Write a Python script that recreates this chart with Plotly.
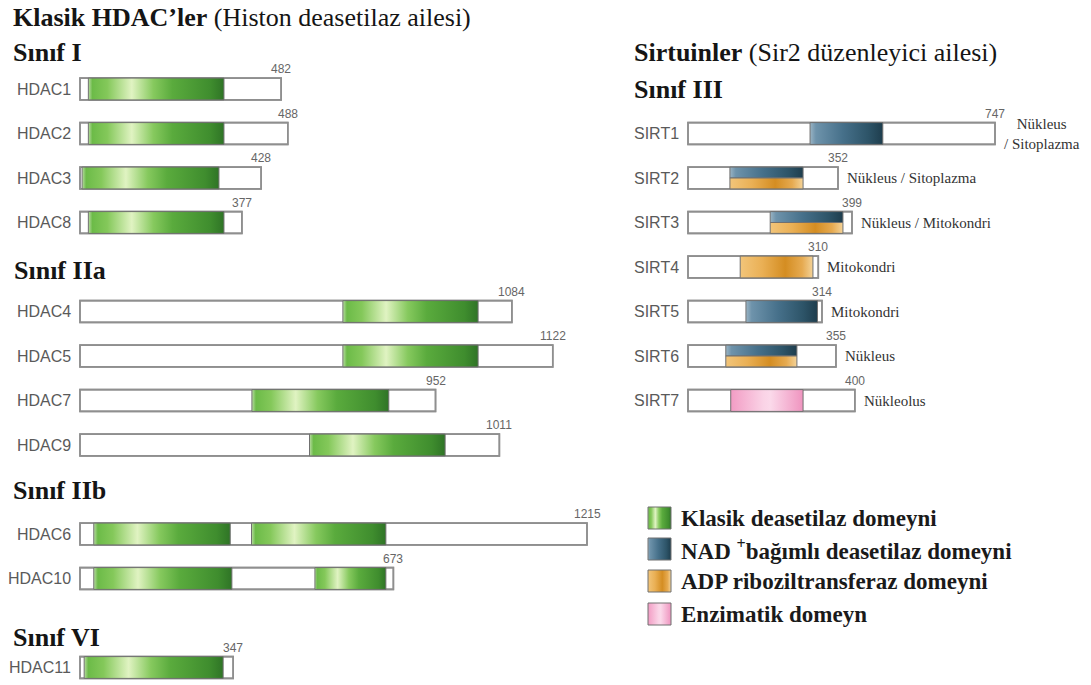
import plotly.graph_objects as go

W, H = 1091, 685

# ---------------- data ----------------
hdac_names = ["HDAC1", "HDAC2", "HDAC3", "HDAC8", "HDAC4", "HDAC5", "HDAC7",
              "HDAC9", "HDAC6", "HDAC10", "HDAC11"]
hdac_length_labels = [482, 488, 428, 377, 1084, 1122, 952, 1011, 1215, 673, 347]
hdac_drawn_length = [482, 498, 434, 388, 1035, 1133, 852, 1005, 1215, 751, 367]
hdac_rows = [2, 3, 4, 5, 7, 8, 9, 10, 12, 13, 15]
hdac_domain_start = [[20], [20], [5], [20], [630], [630], [412], [550],
                     [33, 411], [33, 563], [10]]
hdac_domain_end = [[345], [345], [333], [345], [954], [954], [740], [875],
                   [360, 733], [364, 733], [343]]

sirt_names = ["SIRT1", "SIRT2", "SIRT3", "SIRT4", "SIRT5", "SIRT6", "SIRT7"]
sirt_length_labels = [747, 352, 399, 310, 314, 355, 400]
sirt_drawn_length = [747, 365, 399, 317, 326, 360, 406]
sirt_rows = [3, 4, 5, 6, 7, 8, 9]
sirt_domain_start = [297, 102, 200, 127, 141, 92, 104]
sirt_domain_end = [474, 280, 377, 304, 315, 265, 280]
sirt_domain_type = ["nad", "nad_art", "nad_art", "art", "nad", "nad_art", "enz"]
sirt_location = ["Nükleus<br>/ Sitoplazma", "Nükleus / Sitoplazma",
                 "Nükleus / Mitokondri", "Mitokondri", "Mitokondri",
                 "Nükleus", "Nükleolus"]

left_headers = ["<b>Klasik HDAC’ler</b> (Histon deasetilaz ailesi)",
                "<b>Sınıf I</b>", "<b>Sınıf IIa</b>", "<b>Sınıf IIb</b>", "<b>Sınıf VI</b>"]
right_headers = ["<b>Sirtuinler</b> (Sir2 düzenleyici ailesi)", "<b>Sınıf III</b>"]
legend_labels = ["Klasik deasetilaz domeyni",
                 "NAD <sup>+</sup>bağımlı deasetilaz domeyni",
                 "ADP riboziltransferaz domeyni",
                 "Enzimatik domeyn"]
legend_types = ["green", "nad", "art", "enz"]

# ---------------- styles ----------------
SERIF = "Liberation Serif, Times New Roman, serif"
SANS = "Liberation Sans, Arial, sans-serif"
BOX_H = 0.49
BOX_LINE = "#8f8f8f"
DOM_LINE = "#707070"

SCALES = {
    "green": [[0, "#b9dca2"], [0.03, "#6cbb48"], [0.14, "#84c85a"], [0.32, "#e0f3c2"],
              [0.48, "#86c95e"], [0.62, "#5aab3d"], [0.9, "#3f8d2e"], [1, "#2f7426"]],
    "nad": [[0, "#9ab4c4"], [0.08, "#6e93ab"], [0.45, "#46708a"], [0.8, "#2d5468"],
            [1, "#1e3d4d"]],
    "art": [[0, "#f2c57a"], [0.3, "#eab055"], [0.62, "#d48d22"], [0.85, "#e6aa50"],
            [1, "#f4d398"]],
    "enz": [[0, "#f29cc4"], [0.45, "#fad3e6"], [0.55, "#fbd9ea"], [1, "#ef94bf"]],
}

# pixel -> axis unit mappings (layout)
K1, ORG1 = 0.41728, 80      # left panel
K2, ORG2 = 0.41098, 688     # right panel
SPLIT = 600
ROW_PX = 44.5

fig = go.Figure()


def add_domain(x0, x1, y0, y1, kind, xa):
    fig.add_trace(go.Scatter(
        x=[x0, x1, x1, x0, x0], y=[y0, y0, y1, y1, y0], mode="lines",
        fill="toself", fillgradient=dict(type="horizontal", colorscale=SCALES[kind]),
        line=dict(color=DOM_LINE, width=1), xaxis=xa, yaxis="y",
        hoverinfo="skip", showlegend=False))


def add_boxes(rows, lengths, xa, fill):
    fig.add_trace(go.Bar(
        orientation="h", y=rows, x=lengths, base=0, width=BOX_H,
        marker=dict(color=fill, line=dict(color=BOX_LINE, width=1.6)),
        xaxis=xa, yaxis="y", hoverinfo="skip", showlegend=False))


# white protein boxes
add_boxes(hdac_rows, hdac_drawn_length, "x", "white")
add_boxes(sirt_rows, sirt_drawn_length, "x2", "white")

# HDAC domains
for r, starts, ends in zip(hdac_rows, hdac_domain_start, hdac_domain_end):
    for s, e in zip(starts, ends):
        add_domain(s, e, r - BOX_H / 2, r + BOX_H / 2, "green", "x")

# SIRT domains
for r, s, e, t in zip(sirt_rows, sirt_domain_start, sirt_domain_end, sirt_domain_type):
    if t == "nad_art":
        add_domain(s, e, r - BOX_H / 2, r, "nad", "x2")
        add_domain(s, e, r, r + BOX_H / 2, "art", "x2")
    else:
        add_domain(s, e, r - BOX_H / 2, r + BOX_H / 2, t, "x2")

# outlines on top
add_boxes(hdac_rows, hdac_drawn_length, "x", "rgba(0,0,0,0)")
add_boxes(sirt_rows, sirt_drawn_length, "x2", "rgba(0,0,0,0)")

annotations = []
# protein names and length numbers
for name, lab, L, r in zip(hdac_names, hdac_length_labels, hdac_drawn_length, hdac_rows):
    annotations.append(dict(x=0, y=r, xref="x", yref="y", text=name, showarrow=False,
                            xanchor="right", yanchor="middle", xshift=-7,
                            font=dict(family=SANS, size=16, color="#5a5a5a")))
    annotations.append(dict(x=L, y=r - BOX_H / 2, xref="x", yref="y", text=str(lab),
                            showarrow=False, xanchor="center", yanchor="bottom", yshift=0,
                            font=dict(family=SANS, size=12, color="#666666")))
for name, lab, L, r, loc in zip(sirt_names, sirt_length_labels,
                                sirt_drawn_length, sirt_rows, sirt_location):
    annotations.append(dict(x=0, y=r, xref="x2", yref="y", text=name, showarrow=False,
                            xanchor="right", yanchor="middle", xshift=-7,
                            font=dict(family=SANS, size=16, color="#5a5a5a")))
    annotations.append(dict(x=L, y=r - BOX_H / 2, xref="x2", yref="y", text=str(lab),
                            showarrow=False, xanchor="center", yanchor="bottom", yshift=0,
                            font=dict(family=SANS, size=12, color="#666666")))
    annotations.append(dict(x=L, y=r, xref="x2", yref="y", text=loc, showarrow=False,
                            xanchor="left", yanchor="middle", xshift=7, align="center",
                            font=dict(family=SERIF, size=15, color="#333333")))


def px(xp, yp):
    return xp / W, 1 - yp / H


for txt, (xp, yp) in zip(left_headers, [(11, 18), (11, 52), (12, 270), (11, 490), (11, 637)]):
    x, y = px(xp, yp)
    annotations.append(dict(x=x, y=y, xref="paper", yref="paper", text=txt, showarrow=False,
                            xanchor="left", yanchor="middle",
                            font=dict(family=SERIF, size=26, color="#151515")))
for txt, (xp, yp) in zip(right_headers, [(632, 52), (632, 89)]):
    x, y = px(xp, yp)
    annotations.append(dict(x=x, y=y, xref="paper", yref="paper", text=txt, showarrow=False,
                            xanchor="left", yanchor="middle",
                            font=dict(family=SERIF, size=26, color="#151515")))

# legend (swatches + text)
LEG_X0, LEG_X1 = 648, 671
LEG_Y = [518, 549, 581, 614]
LEG_S = 22
for lab, t, yc in zip(legend_labels, legend_types, LEG_Y):
    x0 = (LEG_X0 - ORG2) / K2
    x1 = (LEG_X1 - ORG2) / K2
    y0 = (yc - LEG_S / 2) / ROW_PX
    y1 = (yc + LEG_S / 2) / ROW_PX
    add_domain(x0, x1, y0, y1, t, "x2")
    x, y = px(679, yc)
    annotations.append(dict(x=x, y=y, xref="paper", yref="paper", text="<b>" + lab + "</b>",
                            showarrow=False, xanchor="left", yanchor="middle",
                            font=dict(family=SERIF, size=23, color="#1a1a1a")))

axis_common = dict(visible=False, showgrid=False, zeroline=False, fixedrange=True)
fig.update_layout(
    width=W, height=H, margin=dict(l=0, r=0, t=0, b=0),
    paper_bgcolor="white", plot_bgcolor="white",
    barmode="overlay", showlegend=False,
    xaxis=dict(domain=[0, SPLIT / W], range=[-ORG1 / K1, (SPLIT - ORG1) / K1],
               anchor="y", **axis_common),
    xaxis2=dict(domain=[SPLIT / W, 1], range=[(SPLIT - ORG2) / K2, (W - ORG2) / K2],
                anchor="y", **axis_common),
    yaxis=dict(domain=[0, 1], range=[H / ROW_PX, 0], anchor="x", **axis_common),
    annotations=annotations,
)

fig.write_html("out.html",
               config={"displayModeBar": False, "staticPlot": True},
               post_script="document.body.style.margin='0px';"
                           "document.body.style.overflow='hidden';")
